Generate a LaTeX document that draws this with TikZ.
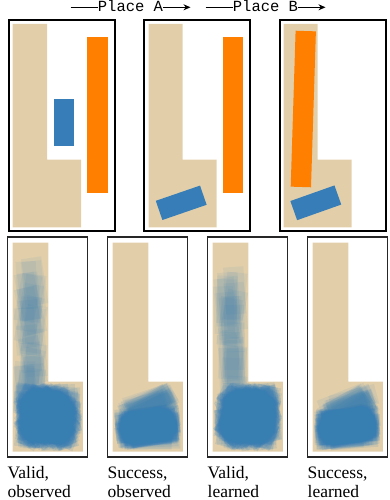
\documentclass[tikz,border=0pt]{standalone}
\usepackage{fontspec}
\setmainfont{Liberation Serif}
\newfontfamily\hdrfont{Liberation Mono}
\usetikzlibrary{arrows.meta}
\definecolor{tanL}{HTML}{E2CFAA}
\definecolor{bblue}{HTML}{377EB8}
\definecolor{borange}{HTML}{FF7F00}
\newcommand{\Lshape}[6]{\fill[tanL] (#1,#2) -- (#3,#2) -- (#3,#4) -- (#5,#4) -- (#5,#6) -- (#1,#6) -- cycle;}
\newcommand{\blk}[4]{\fill[bblue, fill opacity=#4, shift={(#1,#2)}, rotate=#3] (-10.15,-23.65) rectangle (10.15,23.65);}
% valid blob in the bottom part, x offset #1, count #2, opacity #3
\newcommand{\validblob}[3]{%
  \foreach \i in {1,...,#2}{%
    \pgfmathsetmacro\ang{rnd*180}%
    \pgfmathsetmacro\hx{(20.3*abs(cos(\ang))+47.3*abs(sin(\ang)))/2}%
    \pgfmathsetmacro\hy{(20.3*abs(sin(\ang))+47.3*abs(cos(\ang)))/2}%
    \pgfmathsetmacro\cx{#1+13.2+\hx+rnd*(69-2*\hx)}%
    \pgfmathsetmacro\cy{382+\hy+rnd*(69.5-2*\hy)}%
    \blk{\cx}{\cy}{\ang}{#3}%
  }}
% column of blocks in the vertical bar: x offset #1, count #2, opacity #3, angle min #4, angle span #5, top y #6
\newcommand{\colblob}[6]{%
  \foreach \i in {1,...,#2}{%
    \pgfmathsetmacro\ang{#4+rnd*#5}%
    \pgfmathsetmacro\hx{(20.3*abs(cos(\ang))+47.3*abs(sin(\ang)))/2}%
    \pgfmathsetmacro\cx{#1+12.7+\hx+rnd*(35.6-2*\hx)}%
    \pgfmathsetmacro\cy{#6+23.65+rnd*(400-#6-23.65)}%
    \blk{\cx}{\cy}{\ang}{#3}%
  }}
% success blob: x offset #1
\newcommand{\successblob}[1]{%
  \foreach \i in {1,...,120}{%
    \pgfmathsetmacro\ang{-90+rnd*14}%
    \pgfmathsetmacro\hx{(20.3*abs(cos(\ang))+47.3*abs(sin(\ang)))/2}%
    \pgfmathsetmacro\hy{(20.3*abs(sin(\ang))+47.3*abs(cos(\ang)))/2}%
    \pgfmathsetmacro\cx{#1+14+\hx+rnd*(67-2*\hx)}%
    \pgfmathsetmacro\cy{450.5-\hy-rnd*(70-2*\hy)*0.45}%
    \blk{\cx}{\cy}{\ang}{0.13}%
  }%
  \foreach \i in {1,...,22}{%
    \pgfmathsetmacro\ang{-76+rnd*22}%
    \pgfmathsetmacro\hx{(20.3*abs(cos(\ang))+47.3*abs(sin(\ang)))/2}%
    \pgfmathsetmacro\hy{(20.3*abs(sin(\ang))+47.3*abs(cos(\ang)))/2}%
    \pgfmathsetmacro\cx{#1+80-\hx-rnd*12}%
    \pgfmathsetmacro\cy{382.5+\hy+rnd*10}%
    \blk{\cx}{\cy}{\ang}{0.09}%
  }}
\begin{document}
\begin{tikzpicture}[x=1pt,y=-1pt,
  topframe/.style={draw=black, line width=2pt},
  botframe/.style={draw=black!85, line width=1.2pt},
  hdr/.style={font=\hdrfont\fontsize{15.5}{17}\selectfont, inner sep=0pt, anchor=base},
  lbl/.style={font=\fontsize{17.5}{19}\selectfont, inner sep=0pt, anchor=base west},
  hline/.style={line width=1pt},
  harrow/.style={line width=1pt, -{Stealth[length=7pt,width=6pt]}}]
\useasboundingbox (0,0) rectangle (389,500);
\pgfmathsetseed{7}
% header
\node[hdr] (placeA) at (130.5,11.7) {Place A};
\node[hdr] (placeB) at (265.5,11.7) {Place B};
\coordinate (a0) at (70.7,7.3);
\coordinate (a1) at (190.5,7.3);
\coordinate (b0) at (205.7,7.3);
\coordinate (b1) at (325.5,7.3);
\draw[hline] (a0) -- (a0 -| placeA.west);
\draw[harrow] (a1 -| placeA.east) -- (a1);
\draw[hline] (b0) -- (b0 -| placeB.west);
\draw[harrow] (b1 -| placeB.east) -- (b1);
% top panel 1
\Lshape{12.7}{24}{47}{159.7}{81}{227.3}
\fill[borange] (87.3,37) rectangle (107.7,193.3);
\fill[bblue] (53.7,98.7) rectangle (74,146);
\draw[topframe] (9,20) rectangle (115.3,231.3);
% top panel 2
\Lshape{148.7}{24}{182.7}{159.7}{216.7}{227.3}
\fill[borange] (223,37) rectangle (243.3,193.3);
\fill[bblue, shift={(181.2,202.8)}, rotate=-71] (-10.15,-23.4) rectangle (10.15,23.4);
\draw[topframe] (144.3,20) rectangle (250.3,231.3);
% top panel 3
\Lshape{283.7}{24}{317.7}{159.7}{351.7}{227.3}
\fill[borange, shift={(303.3,109)}, rotate=-1.8] (-10.15,-78) rectangle (10.15,78);
\fill[bblue, shift={(315.8,202.8)}, rotate=-70.5] (-10.15,-23.4) rectangle (10.15,23.4);
\draw[topframe] (279.7,20) rectangle (385.7,231.3);
% bottom panels: L shapes
\foreach \o in {0,100,200,300}{
  \Lshape{12.7+\o}{242.5}{48.3+\o}{381.7}{82.9+\o}{451.7}
}
% panel 1: valid, observed
\colblob{0}{30}{0.08}{-14}{28}{254}
\validblob{0}{230}{0.13}
% panel 2: success, observed
\successblob{100}
% panel 3: valid, learned
\colblob{200}{26}{0.08}{-12}{20}{265}
\validblob{200}{230}{0.13}
% panel 4: success, learned
\successblob{300}
% bottom frames
\draw[botframe] (7.5,237) rectangle (87.2,457);
\draw[botframe] (107.5,237) rectangle (187.2,457);
\draw[botframe] (207.5,237) rectangle (287.2,457);
\draw[botframe] (307.5,237) rectangle (387.2,457);
% labels
\node[lbl] (l1a) at (7.5,478.3) {Valid,};
\node[lbl] (l1b) at (7.5,497.3) {observed};
\node[lbl] (l2a) at (107.5,478.3) {Success,};
\node[lbl] (l2b) at (107.5,497.3) {observed};
\node[lbl] (l3a) at (207.5,478.3) {Valid,};
\node[lbl] (l3b) at (207.5,497.3) {learned};
\node[lbl] (l4a) at (307.5,478.3) {Success,};
\node[lbl] (l4b) at (307.5,497.3) {learned};
\end{tikzpicture}
\end{document}
